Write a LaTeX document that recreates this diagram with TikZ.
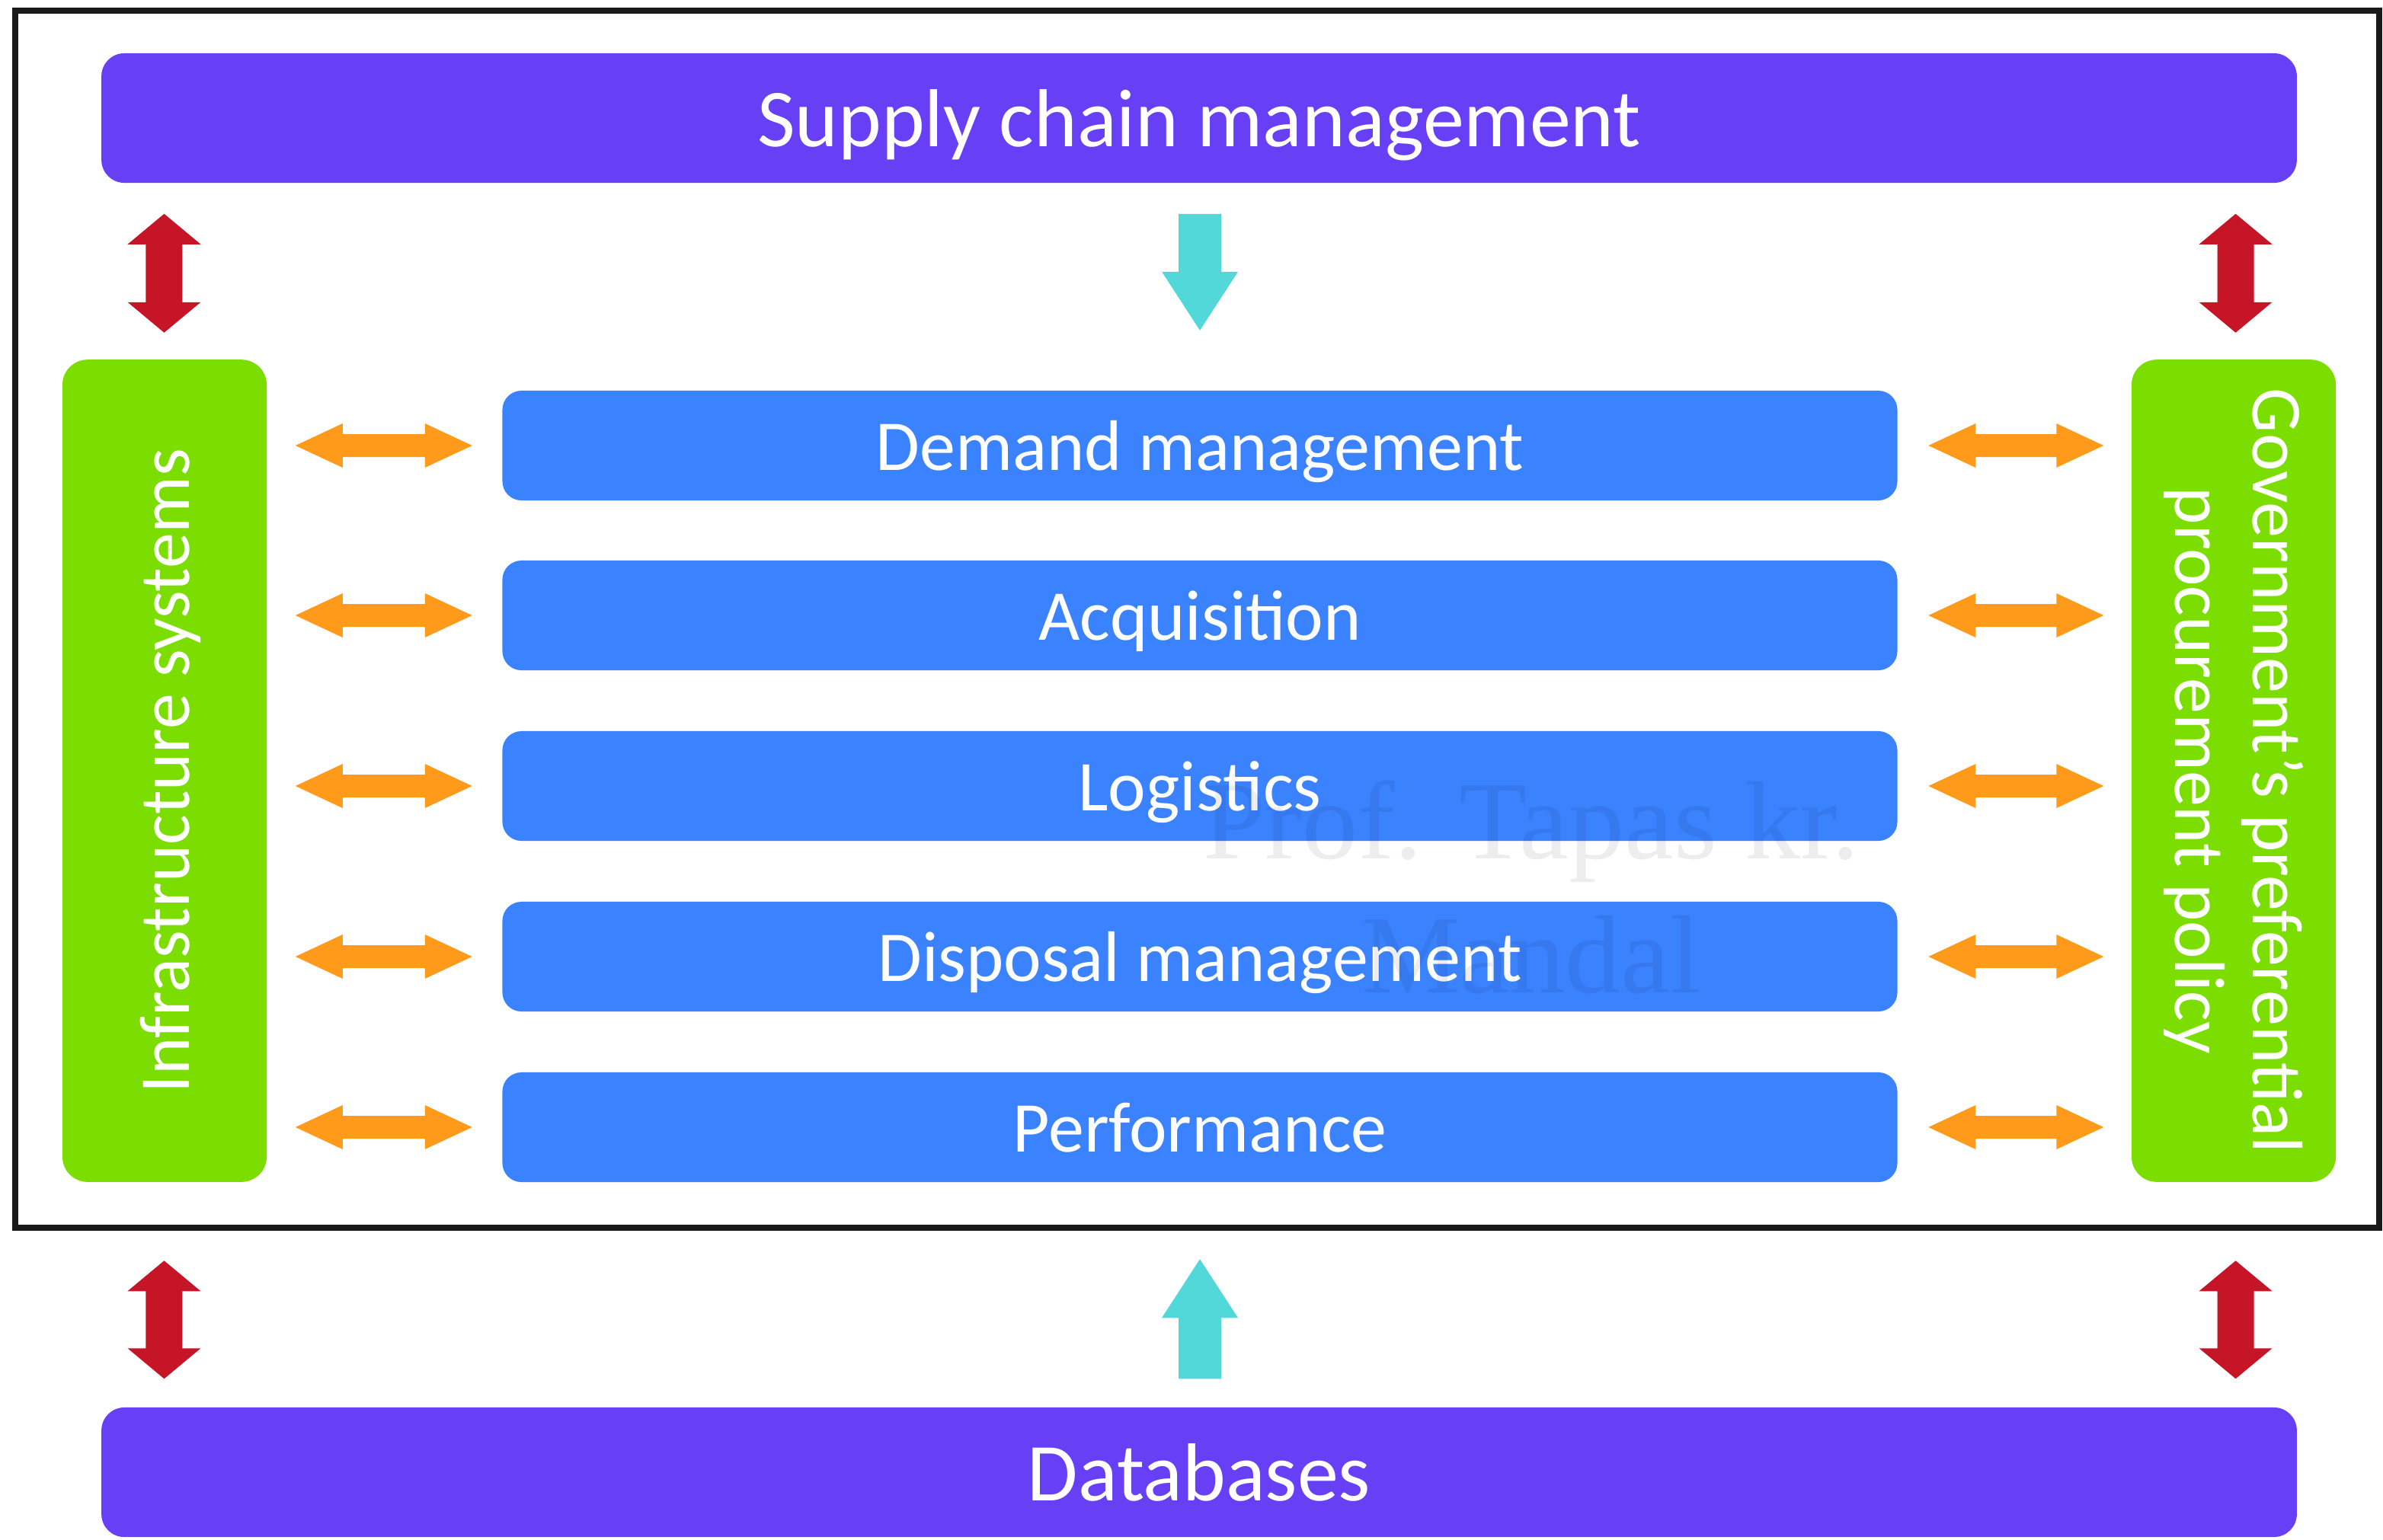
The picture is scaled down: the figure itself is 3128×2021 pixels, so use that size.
\documentclass[tikz,border=0pt]{standalone}
\usepackage{fontspec}
\setmainfont{Carlito}
\newfontfamily\wmfont{Liberation Serif}
\usetikzlibrary{calc}
\definecolor{scmpurple}{RGB}{103,63,245}
\definecolor{procblue}{RGB}{59,130,255}
\definecolor{sidegreen}{RGB}{123,221,0}
\definecolor{linkorange}{RGB}{255,154,26}
\definecolor{linkred}{RGB}{198,21,38}
\definecolor{flowcyan}{RGB}{83,216,218}
% horizontal double arrow: left tip, right tip, shaft half, head half, head length, colour
\newcommand{\hdblarrow}[6]{%
  \fill[#6] (#1) -- ($(#1)+(#5,-#4)$) -- ($(#1)+(#5,-#3)$) -- ($(#2)+(-#5,-#3)$) -- ($(#2)+(-#5,-#4)$) -- (#2)
    -- ($(#2)+(-#5,#4)$) -- ($(#2)+(-#5,#3)$) -- ($(#1)+(#5,#3)$) -- ($(#1)+(#5,#4)$) -- cycle;}
% vertical double arrow: top tip, bottom tip, shaft half, head half, head length, colour
\newcommand{\vdblarrow}[6]{%
  \fill[#6] (#1) -- ($(#1)+(#4,#5)$) -- ($(#1)+(#3,#5)$) -- ($(#2)+(#3,-#5)$) -- ($(#2)+(#4,-#5)$) -- (#2)
    -- ($(#2)+(-#4,-#5)$) -- ($(#2)+(-#3,-#5)$) -- ($(#1)+(-#3,#5)$) -- ($(#1)+(-#4,#5)$) -- cycle;}
% vertical single arrow: tail, tip, shaft half, head half, signed head offset, colour
\newcommand{\vsglarrow}[6]{%
  \fill[#6] ($(#1)+(-#3,0)$) -- ($(#1)+(#3,0)$) -- ($(#2)+(#3,#5)$) -- ($(#2)+(#4,#5)$) -- (#2)
    -- ($(#2)+(-#4,#5)$) -- ($(#2)+(-#3,#5)$) -- cycle;}
\begin{document}
\begin{tikzpicture}[x=0.01cm,y=-0.01cm,
  bar/.style={fill=scmpurple, rounded corners=0.3cm, minimum width=28.8cm, minimum height=1.7cm,
    inner sep=0pt, text depth=0pt, text=white, font=\fontsize{30.7pt}{36pt}\selectfont},
  proc/.style={fill=procblue, rounded corners=0.25cm, minimum width=18.3cm, minimum height=1.44cm,
    inner sep=0pt, text depth=0pt, text=white, font=\fontsize{26.7pt}{32pt}\selectfont},
  side/.style={fill=sidegreen, rounded corners=0.33cm, minimum width=10.79cm, minimum height=2.68cm,
    inner sep=0pt, text=white, font=\fontsize{26.7pt}{28.8pt}\selectfont}]
\useasboundingbox (0,0) rectangle (3128,2021);
\fill[white] (0,0) rectangle (3128,2021);
% outer frame
\draw[line width=0.075cm, black!90] (20,14) rectangle (3123,1612);
% bars
\node[bar] (scm) at (1574,155) {Supply chain management};
\node[bar] (db) at (1574,1933) {Databases};
% side boxes
\node[side, rotate=90, text depth=0pt] (inf) at (216,1012) {Infrastructure systems};
\node[side, rotate=-90, align=center] (gov) at (2932,1012) {Government’s preferential\\procurement policy};
% process boxes
\node[proc] (dm) at (1575,585) {Demand management};
\node[proc] (ac) at (1575,808) {Acquisition};
\node[proc] (lo) at (1575,1032) {Logistics};
\node[proc] (dp) at (1575,1256) {Disposal management};
\node[proc] (pf) at (1575,1480) {Performance};
% orange links
\foreach \n in {dm,ac,lo,dp,pf}{
  \coordinate (\n-l1) at ($(\n.west)+(-271,0)$);
  \coordinate (\n-l2) at ($(\n.west)+(-39,0)$);
  \coordinate (\n-r1) at ($(\n.east)+(40,0)$);
  \coordinate (\n-r2) at ($(\n.east)+(270,0)$);
  \hdblarrow{\n-l1}{\n-l2}{15}{29}{62}{linkorange}
  \hdblarrow{\n-r1}{\n-r2}{15}{29}{62}{linkorange}
}
% red links
\coordinate (rtl1) at ($(scm.south west)+(83,40)$);
\coordinate (rtl2) at ($(scm.south west)+(83,196)$);
\coordinate (rtr1) at ($(scm.south east)+(-81,40)$);
\coordinate (rtr2) at ($(scm.south east)+(-81,196)$);
\coordinate (rbl1) at ($(db.north west)+(83,-192)$);
\coordinate (rbl2) at ($(db.north west)+(83,-37)$);
\coordinate (rbr1) at ($(db.north east)+(-81,-192)$);
\coordinate (rbr2) at ($(db.north east)+(-81,-37)$);
\vdblarrow{rtl1}{rtl2}{24}{48}{40}{linkred}
\vdblarrow{rtr1}{rtr2}{24}{48}{40}{linkred}
\vdblarrow{rbl1}{rbl2}{24}{48}{40}{linkred}
\vdblarrow{rbr1}{rbr2}{24}{48}{40}{linkred}
% cyan flows
\coordinate (cd1) at ($(scm.south)+(1,40)$);
\coordinate (cd2) at ($(scm.south)+(1,193)$);
\coordinate (cu1) at ($(db.north)+(1,-37)$);
\coordinate (cu2) at ($(db.north)+(1,-194)$);
\vsglarrow{cd1}{cd2}{28}{50}{-77}{flowcyan}
\vsglarrow{cu1}{cu2}{28}{50}{77}{flowcyan}
% watermark
\node[font=\wmfont\fontsize{41.5pt}{50pt}\selectfont, text=black, text opacity=0.07, align=center] (wm)
  at (2010,1165) {Prof. Tapas kr.\\Mandal};
\end{tikzpicture}
\end{document}
